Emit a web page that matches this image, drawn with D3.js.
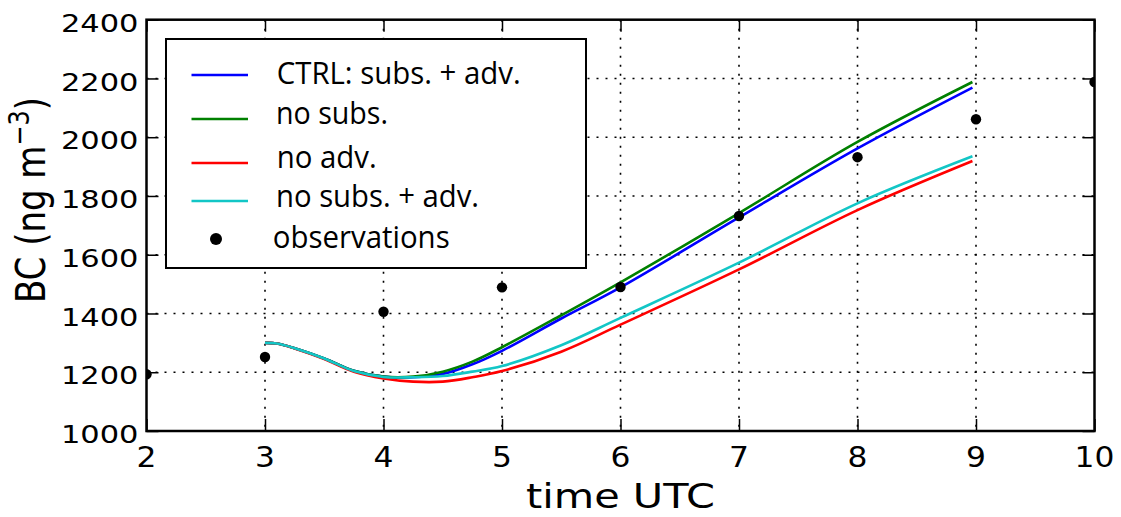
<!DOCTYPE html>
<html>
<head>
<meta charset="utf-8">
<script src="https://cdn.jsdelivr.net/npm/d3@7"></script>
<style>
  html, body { margin: 0; padding: 0; background: #fff; }
  svg { display: block; }
</style>
</head>
<body>
<svg id="chart" width="1121" height="517"></svg>
<script>
// ---------- data ----------
const xTicks = [2, 3, 4, 5, 6, 7, 8, 9, 10];
const yTicks = [1000, 1200, 1400, 1600, 1800, 2000, 2200, 2400];

const modelTime = [3, 3.1, 3.25, 3.5, 3.75, 4, 4.25, 4.5, 4.75, 5, 5.5, 6, 7, 8, 8.97];
const ctrl      = [1300, 1298, 1282, 1247, 1205, 1185, 1183, 1194, 1227, 1273, 1383, 1489, 1727, 1962, 2169];
const noSubs    = [1300, 1298, 1282, 1247, 1205, 1185, 1185, 1202, 1236, 1285, 1394, 1506, 1742, 1984, 2188];
const noAdv     = [1300, 1298, 1281, 1245, 1202, 1179, 1168, 1168, 1183, 1204, 1270, 1362, 1550, 1752, 1919];
const noSubsAdv = [1300, 1298, 1282, 1247, 1204, 1184, 1183, 1187, 1202, 1221, 1292, 1385, 1573, 1775, 1935];

const obsTime = [2, 3, 4, 5, 6, 7, 8, 9, 10];
const obsVals = [1193, 1252, 1406, 1489, 1490, 1732, 1932, 2061, 2188];

const seriesNames  = ["CTRL: subs. + adv.", "no subs.", "no adv.", "no subs. + adv."];
const seriesColors = ["#0000ff", "#008000", "#ff0000", "#12c6c6"];
const seriesData   = [ctrl, noSubs, noAdv, noSubsAdv];
const obsName = "observations";

// ---------- layout ----------
const L = 146.5, R = 1094.5, T = 19.7, B = 431;
const svg = d3.select("#chart");
const x = d3.scaleLinear().domain([2, 10]).range([L, R]);
const y = d3.scaleLinear().domain([1000, 2400]).range([B, T]);

svg.append("defs").append("clipPath").attr("id", "clip")
  .append("rect").attr("x", L).attr("y", T).attr("width", R - L).attr("height", B - T);

// grid
const grid = svg.append("g").attr("stroke", "#000").attr("stroke-width", 1.6)
  .attr("stroke-dasharray", "2,7");
grid.selectAll("line.v").data(xTicks.slice(1, -1)).join("line")
  .attr("x1", d => x(d)).attr("x2", d => x(d)).attr("y1", T).attr("y2", B);
grid.selectAll("line.h").data(yTicks.slice(1, -1)).join("line")
  .attr("x1", L).attr("x2", R).attr("y1", d => y(d)).attr("y2", d => y(d));

// ticks inward via axes
const tl = 12;
function noDomain(g) {
  g.select(".domain").remove();
  g.selectAll("line").attr("stroke-width", 1.5);
}
svg.append("g").attr("transform", `translate(0,${B})`)
  .call(d3.axisBottom(x).tickValues(xTicks).tickSize(-tl).tickFormat("")).call(noDomain);
svg.append("g").attr("transform", `translate(0,${T})`)
  .call(d3.axisTop(x).tickValues(xTicks).tickSize(-tl).tickFormat("")).call(noDomain);
svg.append("g").attr("transform", `translate(${L},0)`)
  .call(d3.axisLeft(y).tickValues(yTicks).tickSize(-tl).tickFormat("")).call(noDomain);
svg.append("g").attr("transform", `translate(${R},0)`)
  .call(d3.axisRight(y).tickValues(yTicks).tickSize(-tl).tickFormat("")).call(noDomain);

// tick labels
const font = "DejaVu Sans, sans-serif";
svg.append("g").selectAll("text").data(xTicks).join("text")
  .attr("transform", d => `translate(${x(d)},466.5) scale(1.12,1)`)
  .attr("text-anchor", "middle")
  .attr("font-family", font).attr("font-size", 28)
  .text(d => d);
svg.append("g").selectAll("text").data(yTicks).join("text")
  .attr("transform", d => `translate(138.5,${y(d) + 12.2}) scale(1.22,1)`)
  .attr("text-anchor", "end")
  .attr("font-family", font).attr("font-size", 25)
  .text(d => d);

// axis titles
svg.append("text")
  .attr("transform", `translate(${(L + R) / 2},508) scale(1.22,1)`)
  .attr("text-anchor", "middle")
  .attr("font-family", font).attr("font-size", 34)
  .text("time UTC");

const yl = svg.append("text")
  .attr("transform", `translate(45,200) scale(1.2,1) rotate(-90)`)
  .attr("text-anchor", "middle")
  .attr("font-family", font).attr("font-size", 34);
yl.append("tspan").text("BC (ng m");
yl.append("tspan").attr("font-size", 24).attr("dy", -13).text("−3");
yl.append("tspan").attr("dy", 13).text(")");

// curves
const plot = svg.append("g").attr("clip-path", "url(#clip)");
const line = d3.line().x(d => x(d[0])).y(d => y(d[1])).curve(d3.curveCatmullRom.alpha(0.5));
seriesData.forEach((vals, i) => {
  plot.append("path")
    .datum(modelTime.map((t, j) => [t, vals[j]]))
    .attr("fill", "none").attr("stroke", seriesColors[i]).attr("stroke-width", 2.6)
    .attr("d", line);
});

// observations
plot.selectAll("circle").data(obsTime.map((t, j) => [t, obsVals[j]])).join("circle")
  .attr("cx", d => x(d[0])).attr("cy", d => y(d[1])).attr("r", 5.2).attr("fill", "#000");

// frame
svg.append("rect").attr("x", L).attr("y", T).attr("width", R - L).attr("height", B - T)
  .attr("fill", "none").attr("stroke", "#000").attr("stroke-width", 2.5);

// legend
const lg = svg.append("g");
lg.append("rect").attr("x", 166).attr("y", 39).attr("width", 420).attr("height", 229)
  .attr("fill", "#fff").attr("stroke", "#000").attr("stroke-width", 2);
const rowLineY = [75, 119, 163, 201];
const rowTextY = [84, 124, 167.7, 206.7];
const rowTextX = [276.7, 276, 276.7, 276];
const rowTextW = [244, 112, 100, 203];
const legFont = "Open Sans, Lato, sans-serif";
seriesNames.forEach((name, i) => {
  lg.append("line").attr("x1", 191.5).attr("x2", 248).attr("y1", rowLineY[i]).attr("y2", rowLineY[i])
    .attr("stroke", seriesColors[i]).attr("stroke-width", 2.6);
  lg.append("text").attr("x", rowTextX[i]).attr("y", rowTextY[i])
    .attr("font-family", legFont).attr("font-size", 31)
    .attr("textLength", rowTextW[i]).attr("lengthAdjust", "spacingAndGlyphs")
    .text(name);
});
lg.append("circle").attr("cx", 216).attr("cy", 239).attr("r", 6).attr("fill", "#000");
lg.append("text").attr("x", 272.7).attr("y", 247.7)
  .attr("font-family", legFont).attr("font-size", 31)
  .attr("textLength", 177).attr("lengthAdjust", "spacingAndGlyphs")
  .text(obsName);
</script>
</body>
</html>
